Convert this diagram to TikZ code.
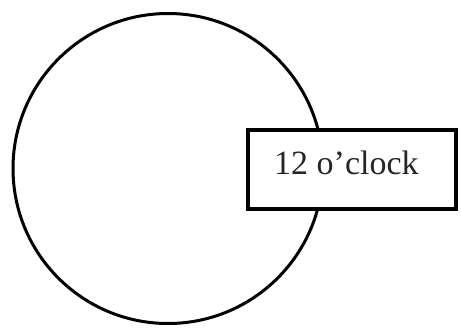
\documentclass[tikz,border=0pt]{standalone}
\usepackage{fontspec}
\setmainfont{Liberation Serif}
\begin{document}
\begin{tikzpicture}[x=1pt,y=-1pt,
  ring/.style={draw=black,line width=3pt,circle,minimum size=310pt,inner sep=0pt},
  tag/.style={draw=black,fill=white,line width=3.4pt,minimum width=208pt,minimum height=79pt,inner sep=0pt},
  lbl/.style={font=\fontsize{34}{36}\selectfont,inner sep=0pt,text=black!85}]
\useasboundingbox (0,0) rectangle (461,327);
\node[ring] (clock) at (168,168.5) {};
\node[tag] (box) at (352,169.5) {};
\node[lbl,anchor=base west] (label) at (274,174) {12 o’clock};
\end{tikzpicture}
\end{document}
